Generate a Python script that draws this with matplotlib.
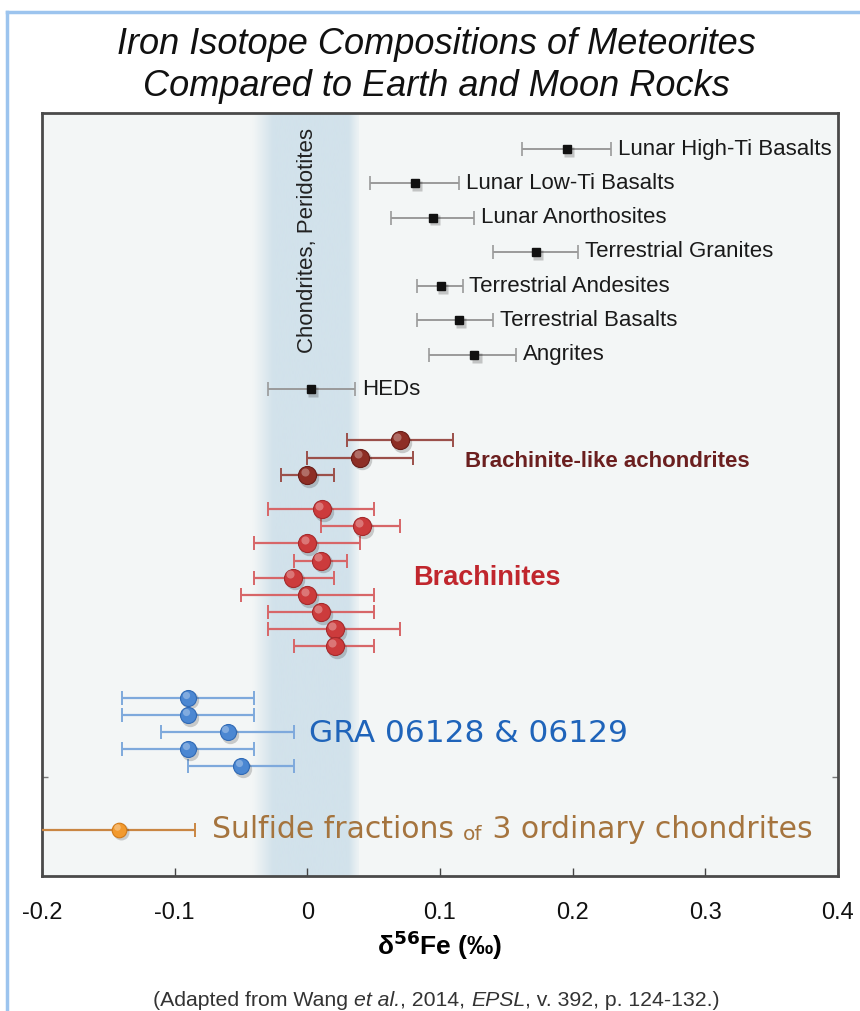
import numpy as np
import matplotlib
matplotlib.use("Agg")
import matplotlib.pyplot as plt
import matplotlib.transforms as mtransforms
from matplotlib.lines import Line2D

# reference rocks (black squares), top to bottom
ref_names = ["Lunar High-Ti Basalts", "Lunar Low-Ti Basalts", "Lunar Anorthosites",
             "Terrestrial Granites", "Terrestrial Andesites", "Terrestrial Basalts",
             "Angrites", "HEDs"]
ref_val = [0.196, 0.081, 0.095, 0.172, 0.101, 0.114, 0.126, 0.003]
ref_lo = [0.162, 0.047, 0.063, 0.140, 0.083, 0.083, 0.092, -0.030]
ref_hi = [0.229, 0.114, 0.126, 0.204, 0.117, 0.140, 0.157, 0.036]

# brachinite-like achondrites
bla_val = [0.070, 0.040, 0.000]
bla_lo = [0.030, 0.000, -0.020]
bla_hi = [0.110, 0.080, 0.020]

# brachinites
bra_val = [0.011, 0.041, 0.000, 0.010, -0.011, 0.000, 0.010, 0.021, 0.021]
bra_lo = [-0.030, 0.010, -0.040, -0.010, -0.040, -0.050, -0.030, -0.030, -0.010]
bra_hi = [0.050, 0.070, 0.040, 0.030, 0.020, 0.050, 0.050, 0.070, 0.050]

# GRA 06128 & 06129
gra_val = [-0.090, -0.090, -0.060, -0.090, -0.050]
gra_lo = [-0.140, -0.140, -0.110, -0.140, -0.090]
gra_hi = [-0.040, -0.040, -0.010, -0.040, -0.010]

# sulfide fractions of ordinary chondrites
sul_val = [-0.142]
sul_lo = [-0.205]
sul_hi = [-0.085]

# chondrite / peridotite range
band_lo, band_hi = -0.036, 0.034

xticks = [-0.2, -0.1, 0, 0.1, 0.2, 0.3, 0.4]
xtick_labels = ["-0.2", "-0.1", "0", "0.1", "0.2", "0.3", "0.4"]

SANS = ["Liberation Sans", "DejaVu Sans"]
plt.rcParams["font.family"] = SANS

fig = plt.figure(figsize=(8.6, 10.11), dpi=100)
ax = fig.add_axes([42 / 860, 1 - 876 / 1011, 796 / 860, 763 / 1011])
ax.set_facecolor("#f3f6f6")

# page frame bits from the screenshot
fig.add_artist(Line2D([7 / 860, 7 / 860], [0, 1 - 12 / 1011], transform=fig.transFigure,
                      color="#9cc4ee", lw=2.5))
fig.add_artist(Line2D([7 / 860, 1], [1 - 12 / 1011, 1 - 12 / 1011], transform=fig.transFigure,
                      color="#9cc4ee", lw=2.5))

# soft blue band
grad = np.concatenate([np.linspace(0, 1, 12), np.ones(40), np.linspace(1, 0.2, 6)])
cmap = matplotlib.colors.LinearSegmentedColormap.from_list("band", ["#f3f6f6", "#d2e2eb"])
ax.imshow(grad[np.newaxis, :], extent=(band_lo - 0.006, band_hi + 0.004, 44.4, -0.1),
          aspect="auto", cmap=cmap, vmin=0, vmax=1, zorder=0, interpolation="bicubic")
ax.set_xlim(-0.2, 0.4)
ax.set_ylim(44.4, -0.1)
ax.text((band_lo + band_hi) / 2 + 0.001, 0.8, "Chondrites, Peridotites", rotation=90,
        ha="center", va="top", fontsize=16, color="#222222")


def sphere_row(y, val, lo, hi, face, edge, ecol, size, cap):
    val = np.asarray(val)
    xerr = [val - np.asarray(lo), np.asarray(hi) - val]
    ax.errorbar(val, y, xerr=xerr, fmt="none", ecolor=ecol, elinewidth=1.6,
                capsize=cap, capthick=1.4, zorder=3)
    shadow = mtransforms.offset_copy(ax.transData, fig=fig, x=1.5, y=-2, units="points")
    ax.plot(val, y, "o", ms=size + 1, color="#000000", alpha=0.18, mec="none",
            transform=shadow, zorder=4)
    ax.plot(val, y, "o", ms=size, mfc=face, mec=edge, mew=0.8, zorder=5)
    hl = mtransforms.offset_copy(ax.transData, fig=fig, x=-size * 0.15, y=size * 0.18, units="points")
    ax.plot(val, y, "o", ms=size * 0.45, color="white", alpha=0.3, mec="none",
            transform=hl, zorder=6)


# black squares with labels
ref_y = 2 + 2 * np.arange(len(ref_names))
ref_v = np.asarray(ref_val)
ax.errorbar(ref_v, ref_y, xerr=[ref_v - np.asarray(ref_lo), np.asarray(ref_hi) - ref_v],
            fmt="none", ecolor="#9a9a9a", elinewidth=1.4, capsize=5, capthick=1.2, zorder=3)
shadow = mtransforms.offset_copy(ax.transData, fig=fig, x=1.5, y=-2, units="points")
ax.plot(ref_v, ref_y, "s", ms=7, color="#000000", alpha=0.2, mec="none", transform=shadow, zorder=4)
ax.plot(ref_v, ref_y, "s", ms=6, color="#111111", zorder=5)
lab_off = mtransforms.offset_copy(ax.transData, fig=fig, x=5, y=0, units="points")
for name, yy, h in zip(ref_names, ref_y, ref_hi):
    ax.text(h, yy, name, transform=lab_off, ha="left", va="center", fontsize=16,
            color="#1a1a1a")

bla_y = 19 + np.arange(len(bla_val))
sphere_row(bla_y, bla_val, bla_lo, bla_hi, "#8e2e25", "#6a1d18", "#9b504a", 13, 5)
ax.text(0.119, 20.2, "Brachinite-like achondrites", fontsize=16, fontweight="bold",
        color="#6b1f1f", ha="left", va="center")

bra_y = 23 + np.arange(len(bra_val))
sphere_row(bra_y, bra_val, bra_lo, bra_hi, "#cc3b3c", "#a52a2c", "#d76668", 13, 5)
ax.text(0.080, 27.0, "Brachinites", fontsize=19.5, fontweight="bold",
        color="#c0262d", ha="left", va="center")

gra_y = 34 + np.arange(len(gra_val))
sphere_row(gra_y, gra_val, gra_lo, gra_hi, "#4b87d2", "#2f69b5", "#7ea9dc", 11.5, 5)
ax.text(0.001, 36.1, "GRA 06128 & 06129", fontsize=22.5, color="#1f64ba",
        ha="left", va="center", family=["DejaVu Sans"])

sul_y = [41.7]
sphere_row(sul_y, sul_val, sul_lo, sul_hi, "#f29a2e", "#d27a18", "#c98643", 10.5, 5)
t1 = ax.text(-0.072, 41.7, "Sulfide fractions ", fontsize=21.5, color="#a5743e",
             ha="left", va="center", family=["DejaVu Sans"])
t2 = ax.annotate("of", xy=(1, 0), xycoords=t1, fontsize=14.5, color="#a5743e",
                 ha="left", va="bottom", family=["DejaVu Sans"])
t3 = ax.annotate(" 3 ordinary chondrites", xy=(1, 0), xycoords=t2, fontsize=21.5,
                 color="#a5743e", ha="left", va="bottom", family=["DejaVu Sans"])

# axes styling
ax.set_xticks(xticks)
ax.set_xticklabels(xtick_labels)
ax.tick_params(axis="x", direction="in", length=6, width=1, labelsize=17, pad=19,
               colors="#444444", labelcolor="#111111", top=False)
ax.set_yticks([38.6])
ax.set_yticklabels([])
ax.tick_params(axis="y", direction="in", length=4, width=1, colors="#777777", right=True)
for sp in ax.spines.values():
    sp.set_color("#4a4a4a")
    sp.set_linewidth(2)
ax.set_xlabel(r"δ$^{\mathbf{56}}$Fe (‰)", fontsize=19, fontweight="bold", labelpad=3)

# title
fig.text(436 / 860, 1 - 45 / 1011, "Iron Isotope Compositions of Meteorites", ha="center",
         va="center", fontsize=26, style="italic", color="#111111")
fig.text(436 / 860, 1 - 87 / 1011, "Compared to Earth and Moon Rocks", ha="center",
         va="center", fontsize=26, style="italic", color="#111111")

# caption with italic pieces
cap_parts = [("(Adapted from Wang ", "normal"), ("et al.", "italic"), (", 2014, ", "normal"),
             ("EPSL", "italic"), (", v. 392, p. 124-132.)", "normal")]
prev = fig.text(153 / 860, 1 - 1000 / 1011, cap_parts[0][0], ha="left", va="center",
                fontsize=15.3, color="#333333")
for txt, st in cap_parts[1:]:
    prev = ax.annotate(txt, xy=(1, 0), xycoords=prev, fontsize=15.3, color="#333333",
                       style=st, ha="left", va="bottom", annotation_clip=False)

fig.savefig("out.png", dpi=100)
